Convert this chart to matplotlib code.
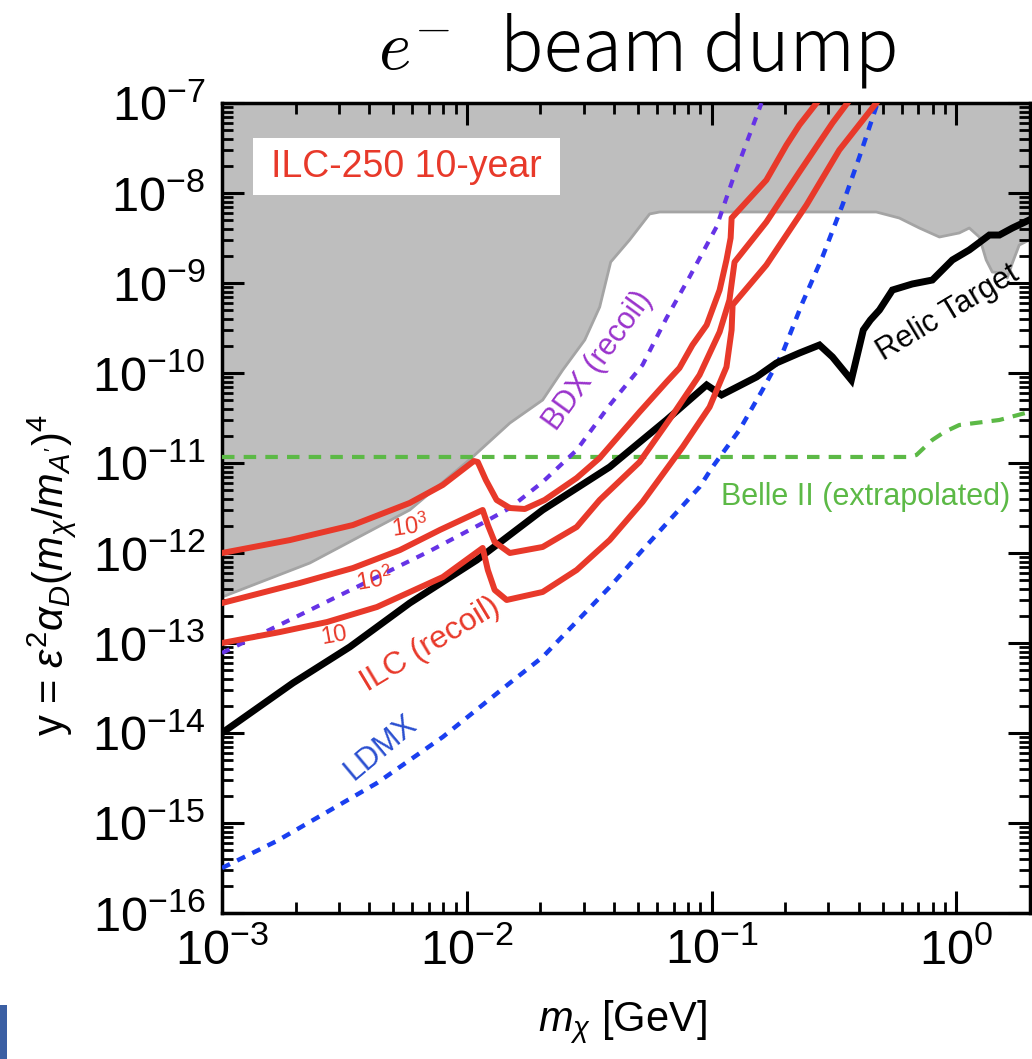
import numpy as np
import matplotlib
matplotlib.use("Agg")
import matplotlib.pyplot as plt
from matplotlib.ticker import LogLocator, NullFormatter
from matplotlib.patches import Rectangle

# ---------------- data (log10 of m_chi [GeV], log10 of y) ----------------
gray_logm = [-3.000, -2.641, -2.233, -1.976, -1.824, -1.690, -1.608, -1.518, -1.457, -1.412,
             -1.335, -1.253, -1.212, -0.327, -0.233, -0.151, -0.069, 0.012, 0.053, 0.094,
             0.122, 0.147, 0.188, 0.208, 0.229, 0.257, 0.298]
gray_logy = [-12.489, -12.111, -11.522, -10.933, -10.556, -10.300, -9.967, -9.633, -9.267, -8.767,
             -8.522, -8.233, -8.211, -8.211, -8.278, -8.389, -8.489, -8.444, -8.389, -8.489,
             -8.744, -8.878, -8.889, -8.944, -8.778, -8.578, -8.522]

relic_logm = [-3.000, -2.710, -2.478, -2.233, -1.959, -1.690, -1.416, -1.184, -1.020, -0.959,
              -0.816, -0.735, -0.641, -0.559, -0.506, -0.429, -0.380, -0.351, -0.314, -0.261,
              -0.180, -0.098, -0.016, 0.053, 0.135, 0.176, 0.229, 0.298]
relic_logy = [-14.000, -13.444, -13.044, -12.556, -12.078, -11.522, -11.044, -10.522, -10.133, -10.244,
              -10.044, -9.889, -9.778, -9.689, -9.822, -10.078, -9.522, -9.411, -9.300, -9.078,
              -9.011, -8.967, -8.744, -8.633, -8.467, -8.467, -8.389, -8.300]

ilc1000_logm = [-3.000, -2.722, -2.465, -2.233, -2.098, -1.971, -1.955, -1.922, -1.878, -1.824,
                -1.763, -1.682, -1.551, -1.457, -1.294, -1.184, -1.131, -1.078, -1.020, -0.967,
                -0.939, -0.922, -0.918, -0.776, -0.694, -0.641, -0.571]
ilc1000_logy = [-12.000, -11.856, -11.689, -11.444, -11.244, -10.978, -10.989, -11.189, -11.411, -11.500,
                -11.511, -11.411, -11.167, -10.944, -10.433, -10.100, -9.944, -9.689, -9.467, -9.078,
                -8.744, -8.500, -8.278, -7.856, -7.467, -7.244, -7.000]

ilc100_logm = [-3.000, -2.682, -2.465, -2.273, -2.110, -1.935, -1.914, -1.886, -1.824, -1.690,
               -1.551, -1.457, -1.294, -1.159, -1.049, -0.967, -0.927, -0.906, -0.776, -0.641,
               -0.506, -0.445]
ilc100_logy = [-12.556, -12.333, -12.167, -11.967, -11.744, -11.522, -11.689, -11.878, -12.000, -11.933,
               -11.711, -11.411, -10.989, -10.467, -10.022, -9.544, -9.189, -8.767, -8.322, -7.767,
               -7.222, -7.000]

ilc10_logm = [-3.000, -2.763, -2.571, -2.367, -2.098, -1.935, -1.914, -1.886, -1.837, -1.690,
              -1.551, -1.416, -1.282, -1.118, -1.008, -0.939, -0.918, -0.914, -0.776, -0.612,
              -0.478, -0.327]
ilc10_logy = [-13.000, -12.878, -12.767, -12.600, -12.267, -11.944, -12.189, -12.411, -12.522, -12.433,
              -12.189, -11.856, -11.433, -10.822, -10.378, -9.933, -9.522, -9.244, -8.800, -8.133,
              -7.522, -7.000]

bdx_logm = [-3.000, -2.682, -2.367, -2.151, -1.935, -1.824, -1.690, -1.551, -1.416, -1.282,
            -1.184, -1.090, -0.980, -0.914, -0.796]
bdx_logy = [-13.111, -12.689, -12.267, -11.978, -11.667, -11.500, -11.211, -10.856, -10.356, -9.911,
            -9.389, -8.933, -8.378, -7.856, -7.000]

ldmx_logm = [-3.000, -2.776, -2.571, -2.367, -2.098, -1.824, -1.690, -1.416, -1.282, -1.049,
             -0.996, -0.886, -0.792, -0.710, -0.629, -0.547, -0.465, -0.396, -0.322]
ldmx_logy = [-15.500, -15.200, -14.878, -14.556, -14.044, -13.444, -13.156, -12.378, -11.967, -11.267,
             -11.044, -10.633, -10.189, -9.778, -9.222, -8.711, -8.133, -7.600, -7.000]

belle_logm = [-3.000, -0.192, -0.163, -0.098, -0.049, 0.012, 0.176, 0.298]
belle_logy = [-10.933, -10.933, -10.911, -10.744, -10.656, -10.578, -10.522, -10.433]

xlim = (1e-3, 2.0)
ylim = (1e-16, 1e-7)

# ---------------- style ----------------
plt.rcParams['font.family'] = ['Liberation Sans', 'DejaVu Sans']
plt.rcParams['mathtext.fontset'] = 'custom'
plt.rcParams['mathtext.rm'] = 'Liberation Sans'
plt.rcParams['mathtext.it'] = 'Liberation Sans:italic'
plt.rcParams['mathtext.bf'] = 'Liberation Sans:bold'

RED = '#e8392a'
BLACK = '#000000'
PURPLE_LINE = '#6633e6'
PURPLE_TEXT = '#9a33cc'
BLUE_LINE = '#1a3ff0'
BLUE_TEXT = '#2a4fd0'
GREEN = '#5cb946'

fig = plt.figure(figsize=(10.32, 10.59), dpi=100)
ax = fig.add_axes([222 / 1032, 1 - 913 / 1059, 808 / 1032, 810 / 1059])
ax.set_xscale('log')
ax.set_yscale('log')
ax.set_axisbelow(False)


def P(lm, ly):
    return 10.0 ** np.asarray(lm), 10.0 ** np.asarray(ly)


gx, gy = P(gray_logm, gray_logy)
ax.fill_between(gx, gy, 1e-5, color='#bebebe', lw=0, zorder=1)
ax.plot(gx, gy, color='#a4a4a4', lw=2.0, zorder=1.5)

x, y = P(belle_logm, belle_logy)
ax.plot(x, y, color=GREEN, lw=3.0, dashes=(3.0, 2.2), zorder=3)

x, y = P(bdx_logm, bdx_logy)
ax.plot(x, y, color=PURPLE_LINE, lw=3.0, dashes=(2.0, 2.0), zorder=3)

x, y = P(ldmx_logm, ldmx_logy)
ax.plot(x, y, color=BLUE_LINE, lw=3.2, dashes=(2.0, 1.8), zorder=3)

x, y = P(relic_logm, relic_logy)
ax.plot(x, y, color=BLACK, lw=5.0, zorder=4, solid_joinstyle='miter')

for lm, ly in [(ilc1000_logm, ilc1000_logy), (ilc100_logm, ilc100_logy), (ilc10_logm, ilc10_logy)]:
    x, y = P(lm, ly)
    ax.plot(x, y, color=RED, lw=4.3, zorder=5)

ax.set_xlim(*xlim)
ax.set_ylim(*ylim)

# ticks
ax.xaxis.set_major_locator(LogLocator(base=10, numticks=20))
ax.xaxis.set_minor_locator(LogLocator(base=10, subs=np.arange(2, 10), numticks=100))
ax.xaxis.set_minor_formatter(NullFormatter())
ax.yaxis.set_major_locator(LogLocator(base=10, numticks=20))
ax.yaxis.set_minor_locator(LogLocator(base=10, subs=np.arange(2, 10), numticks=100))
ax.yaxis.set_minor_formatter(NullFormatter())
ax.tick_params(which='both', direction='in', top=True, right=True)
ax.tick_params(which='major', length=16, width=2.2, labelsize=35)
ax.tick_params(which='minor', length=8, width=2.0)
ax.tick_params(axis='x', which='major', pad=11)
ax.tick_params(axis='y', which='major', pad=12)
for s in ax.spines.values():
    s.set_linewidth(2.5)

# annotation box
ax.add_patch(Rectangle((0.038, 0.886), 0.380, 0.071, transform=ax.transAxes,
                       facecolor='white', edgecolor='none', zorder=6))
ax.text(0.228, 0.921, 'ILC-250 10-year', transform=ax.transAxes, ha='center', va='center',
        color=RED, fontsize=27, zorder=7)

ax.text(0.466, 0.682, 'BDX (recoil)', transform=ax.transAxes, ha='center', va='center',
        rotation=54, rotation_mode='anchor', color=PURPLE_TEXT, fontsize=22, zorder=7)
ax.text(0.258, 0.331, 'ILC (recoil)', transform=ax.transAxes, ha='center', va='center',
        rotation=31, rotation_mode='anchor', color=RED, fontsize=23, zorder=7)
ax.text(0.233, 0.477, r'$10^{3}$', transform=ax.transAxes, ha='center', va='center',
        rotation=8, rotation_mode='anchor', color=RED, fontsize=17, zorder=7)
ax.text(0.189, 0.411, r'$10^{2}$', transform=ax.transAxes, ha='center', va='center',
        rotation=10, rotation_mode='anchor', color=RED, fontsize=17, zorder=7)
ax.text(0.139, 0.342, '10', transform=ax.transAxes, ha='center', va='center',
        rotation=10, rotation_mode='anchor', color=RED, fontsize=17, zorder=7)
ax.text(0.899, 0.741, 'Relic Target', transform=ax.transAxes, ha='center', va='center',
        rotation=31, rotation_mode='anchor', color=BLACK, fontsize=22, zorder=7)
ax.text(0.796, 0.514, 'Belle II (extrapolated)', transform=ax.transAxes, ha='center', va='center',
        color=GREEN, fontsize=22, zorder=7)
ax.text(0.196, 0.204, 'LDMX', transform=ax.transAxes, ha='center', va='center',
        rotation=40, rotation_mode='anchor', color=BLUE_TEXT, fontsize=22, zorder=7)

# axis labels
fig.text(52 / 1032, 1 - 575 / 1059, r'y = $\varepsilon^2\alpha_D(m_\chi/m_{A^{\prime}})^4$',
         rotation=90, ha='center', va='center', fontsize=30)
fig.text(622 / 1032, 1 - 1022 / 1059, r'$m_\chi$ [GeV]', ha='center', va='center', fontsize=30)

# title
fig.text(378 / 1032, 1 - 70 / 1059, r'$e^{-}$', math_fontfamily='cm', fontsize=50, va='baseline', ha='left')
fig.text(500 / 1032, 1 - 70 / 1059, 'beam dump', family=['Noto Sans CJK JP', 'DejaVu Sans'],
         fontweight='light', fontsize=52, va='baseline', ha='left')

# small cropped fragment at lower-left corner
fig.add_artist(Rectangle((0, 0), 7 / 1032, 54 / 1059, transform=fig.transFigure,
                         facecolor='#3b5fa3', edgecolor='none'))

fig.savefig('out.png', dpi=100)
